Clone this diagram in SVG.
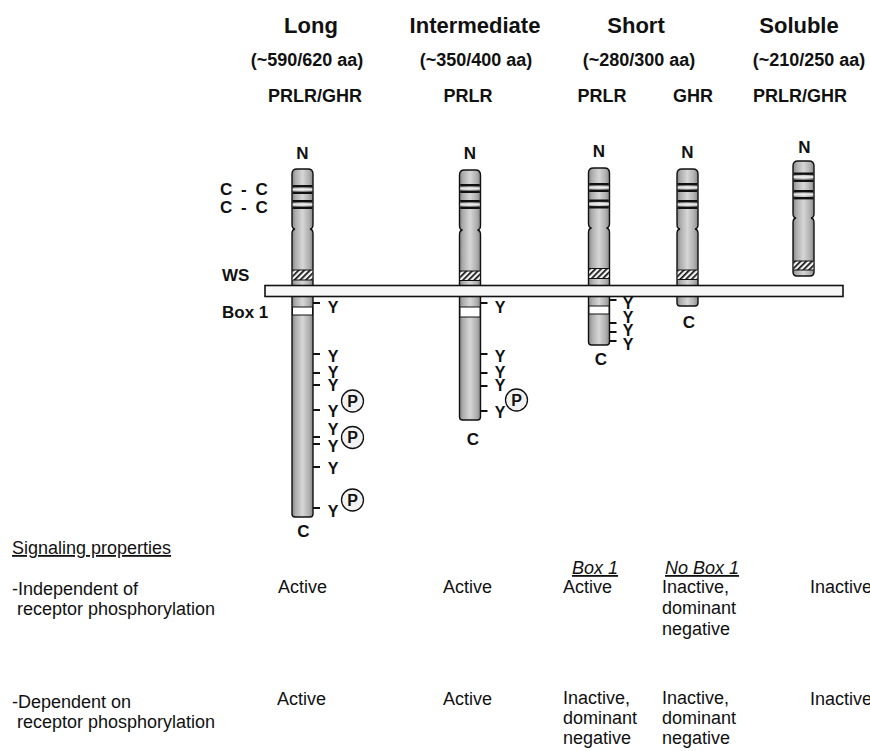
<svg xmlns="http://www.w3.org/2000/svg" width="870" height="751" viewBox="0 0 870 751">
  <style>
    text { font-family: "Liberation Sans", Arial, Helvetica, sans-serif; fill: #111; }
    .title { font-size: 22px; font-weight: bold; text-anchor: middle; }
    .sub { font-size: 18px; font-weight: bold; text-anchor: middle; }
    .kind { font-size: 18px; font-weight: bold; text-anchor: middle; }
    .lbl { font-size: 17px; font-weight: bold; }
    .end { font-size: 17px; font-weight: bold; text-anchor: middle; }
    .y { font-size: 16px; font-weight: bold; text-anchor: middle; }
    .p { font-size: 16px; font-weight: bold; text-anchor: middle; }
    .body { fill: url(#shade); stroke: #111; stroke-width: 1.4; }
    .band { fill: #111; }
    .stripe { fill: #ececec; }
    .ws { fill: url(#hatch); }
    .edge { stroke: #111; stroke-width: 1.2; fill: none; }
    .box1 { fill: #fff; stroke: #111; stroke-width: 1; }
    .tick { fill: #111; }
    .pc { fill: #f2f2f2; stroke: #111; stroke-width: 1.3; }
    .txt { font-size: 18px; }
    .ul { text-decoration: underline; }
    .mem { fill: #f7f7f7; stroke: #111; stroke-width: 1.6; }
  </style>
  <defs>
    <linearGradient id="shade" x1="0" y1="0" x2="1" y2="0">
      <stop offset="0" stop-color="#888"/>
      <stop offset="0.18" stop-color="#afafaf"/>
      <stop offset="0.5" stop-color="#d6d6d6"/>
      <stop offset="0.82" stop-color="#afafaf"/>
      <stop offset="1" stop-color="#888"/>
    </linearGradient>
    <pattern id="hatch" width="4" height="4" patternUnits="userSpaceOnUse" patternTransform="rotate(45)">
      <rect width="4" height="4" fill="#f4f4f4"/>
      <rect width="1.7" height="4" fill="#111"/>
    </pattern>
  </defs>

  <!-- column headings -->
  <g id="headings">
    <text class="title" x="311" y="33">Long</text>
    <text class="title" x="475" y="33">Intermediate</text>
    <text class="title" x="636" y="33">Short</text>
    <text class="title" x="799" y="33">Soluble</text>
    <text class="sub" x="307" y="66">(~590/620 aa)</text>
    <text class="sub" x="476" y="66">(~350/400 aa)</text>
    <text class="sub" x="639" y="66">(~280/300 aa)</text>
    <text class="sub" x="809" y="66">(~210/250 aa)</text>
    <text class="kind" x="315" y="102">PRLR/GHR</text>
    <text class="kind" x="468" y="102">PRLR</text>
    <text class="kind" x="602" y="102">PRLR</text>
    <text class="kind" x="693" y="102">GHR</text>
    <text class="kind" x="800" y="102">PRLR/GHR</text>
  </g>

  <!-- domain labels at the left -->
  <g id="domain-labels">
    <text class="lbl" x="220" y="195" word-spacing="4">C - C</text>
    <text class="lbl" x="220" y="213" word-spacing="4">C - C</text>
    <text class="lbl" x="222" y="281">WS</text>
    <text class="lbl" x="222" y="318">Box 1</text>
  </g>

  <!-- long receptor -->
  <g id="long" transform="translate(302.5,169)">
    <text class="end" x="0" y="-10">N</text>
    <path class="body" d="M-10.5,5 Q-10.5,0 -5.5,0 H5.5 Q10.5,0 10.5,5 V55.5 Q10.5,59.5 7.5,60 Q10.5,60.5 10.5,64.5 V345 Q10.5,348 7.5,348 H-7.5 Q-10.5,348 -10.5,345 V64.5 Q-10.5,60.5 -7.5,60 Q-10.5,59.5 -10.5,55.5 Z"/>
    <rect class="band" x="-9.8" y="16" width="19.6" height="2.4"/>
    <rect class="stripe" x="-9.8" y="19.6" width="19.6" height="1.8"/>
    <rect class="band" x="-9.8" y="22.6" width="19.6" height="2.4"/>
    <rect class="band" x="-9.8" y="31" width="19.6" height="2.4"/>
    <rect class="stripe" x="-9.8" y="34.6" width="19.6" height="1.8"/>
    <rect class="band" x="-9.8" y="37.6" width="19.6" height="2.4"/>
    <rect class="ws" x="-9.8" y="101" width="19.6" height="10"/>
    <path class="edge" d="M-10,101 H10 M-10,111 H10"/>
    <rect class="box1" x="-10" y="138" width="20" height="8"/>
    <rect class="tick" x="10.5" y="133" width="7" height="2"/>
    <rect class="tick" x="10.5" y="184" width="7" height="2"/>
    <rect class="tick" x="10.5" y="203" width="7" height="2"/>
    <rect class="tick" x="10.5" y="215" width="7" height="2"/>
    <rect class="tick" x="10.5" y="240" width="7" height="2"/>
    <rect class="tick" x="10.5" y="267" width="7" height="2"/>
    <rect class="tick" x="10.5" y="274" width="7" height="2"/>
    <rect class="tick" x="10.5" y="297" width="7" height="2"/>
    <rect class="tick" x="10.5" y="338" width="7" height="2"/>
    <text class="y" x="30.5" y="144">Y</text>
    <text class="y" x="30.5" y="193">Y</text>
    <text class="y" x="30.5" y="209">Y</text>
    <text class="y" x="30.5" y="222">Y</text>
    <text class="y" x="30.5" y="248">Y</text>
    <text class="y" x="30.5" y="266">Y</text>
    <text class="y" x="30.5" y="283">Y</text>
    <text class="y" x="30.5" y="305">Y</text>
    <text class="y" x="30.5" y="348">Y</text>
    <circle class="pc" cx="50" cy="232" r="11"/>
    <text class="p" x="50" y="237.8">P</text>
    <circle class="pc" cx="50" cy="268.5" r="11"/>
    <text class="p" x="50" y="274.3">P</text>
    <circle class="pc" cx="50" cy="331" r="11"/>
    <text class="p" x="50" y="336.8">P</text>
    <text class="end" x="1" y="368">C</text>
  </g>

  <!-- intermediate receptor -->
  <g id="intermediate" transform="translate(470,170)">
    <text class="end" x="0" y="-11">N</text>
    <path class="body" d="M-10.5,5 Q-10.5,0 -5.5,0 H5.5 Q10.5,0 10.5,5 V55.5 Q10.5,59.5 7.5,60 Q10.5,60.5 10.5,64.5 V247 Q10.5,250 7.5,250 H-7.5 Q-10.5,250 -10.5,247 V64.5 Q-10.5,60.5 -7.5,60 Q-10.5,59.5 -10.5,55.5 Z"/>
    <rect class="band" x="-9.8" y="14" width="19.6" height="2.4"/>
    <rect class="stripe" x="-9.8" y="17.6" width="19.6" height="1.8"/>
    <rect class="band" x="-9.8" y="20.6" width="19.6" height="2.4"/>
    <rect class="band" x="-9.8" y="30" width="19.6" height="2.4"/>
    <rect class="stripe" x="-9.8" y="33.6" width="19.6" height="1.8"/>
    <rect class="band" x="-9.8" y="36.6" width="19.6" height="2.4"/>
    <rect class="ws" x="-9.8" y="101" width="19.6" height="9.5"/>
    <path class="edge" d="M-10,101 H10 M-10,110.5 H10"/>
    <rect class="box1" x="-10" y="137" width="20" height="10"/>
    <rect class="tick" x="10.5" y="132" width="7" height="2"/>
    <rect class="tick" x="10.5" y="183" width="7" height="2"/>
    <rect class="tick" x="10.5" y="202" width="7" height="2"/>
    <rect class="tick" x="10.5" y="215" width="7" height="2"/>
    <rect class="tick" x="10.5" y="240" width="7" height="2"/>
    <text class="y" x="30" y="143">Y</text>
    <text class="y" x="30" y="192">Y</text>
    <text class="y" x="30" y="208">Y</text>
    <text class="y" x="30" y="221">Y</text>
    <text class="y" x="30" y="248">Y</text>
    <circle class="pc" cx="46.5" cy="230" r="11"/>
    <text class="p" x="46.5" y="235.8">P</text>
    <text class="end" x="3" y="275">C</text>
  </g>

  <!-- short PRLR receptor -->
  <g id="short-prlr" transform="translate(599,168)">
    <text class="end" x="0" y="-11">N</text>
    <path class="body" d="M-10.5,5 Q-10.5,0 -5.5,0 H5.5 Q10.5,0 10.5,5 V55.5 Q10.5,59.5 7.5,60 Q10.5,60.5 10.5,64.5 V174 Q10.5,177 7.5,177 H-7.5 Q-10.5,177 -10.5,174 V64.5 Q-10.5,60.5 -7.5,60 Q-10.5,59.5 -10.5,55.5 Z"/>
    <rect class="band" x="-9.8" y="15" width="19.6" height="2.4"/>
    <rect class="stripe" x="-9.8" y="18.6" width="19.6" height="1.8"/>
    <rect class="band" x="-9.8" y="21.6" width="19.6" height="2.4"/>
    <rect class="band" x="-9.8" y="31.5" width="19.6" height="2.4"/>
    <rect class="stripe" x="-9.8" y="35.1" width="19.6" height="1.8"/>
    <rect class="band" x="-9.8" y="38.1" width="19.6" height="2.4"/>
    <rect class="ws" x="-9.8" y="100.5" width="19.6" height="10"/>
    <path class="edge" d="M-10,100.5 H10 M-10,110.5 H10"/>
    <rect class="box1" x="-10" y="138" width="20" height="8"/>
    <rect class="tick" x="10.5" y="131" width="7" height="2"/>
    <rect class="tick" x="10.5" y="154" width="7" height="2"/>
    <rect class="tick" x="10.5" y="163" width="7" height="2"/>
    <rect class="tick" x="10.5" y="172" width="7" height="2"/>
    <text class="y" x="29" y="141">Y</text>
    <text class="y" x="29" y="155">Y</text>
    <text class="y" x="29" y="168">Y</text>
    <text class="y" x="29" y="182">Y</text>
    <text class="end" x="2" y="197">C</text>
  </g>

  <!-- short GHR receptor -->
  <g id="short-ghr" transform="translate(687.5,169)">
    <text class="end" x="0" y="-11">N</text>
    <path class="body" d="M-10.5,5 Q-10.5,0 -5.5,0 H5.5 Q10.5,0 10.5,5 V55.5 Q10.5,59.5 7.5,60 Q10.5,60.5 10.5,64.5 V134 Q10.5,137 7.5,137 H-7.5 Q-10.5,137 -10.5,134 V64.5 Q-10.5,60.5 -7.5,60 Q-10.5,59.5 -10.5,55.5 Z"/>
    <rect class="band" x="-9.8" y="14" width="19.6" height="2.4"/>
    <rect class="stripe" x="-9.8" y="17.6" width="19.6" height="1.8"/>
    <rect class="band" x="-9.8" y="20.6" width="19.6" height="2.4"/>
    <rect class="band" x="-9.8" y="31" width="19.6" height="2.4"/>
    <rect class="stripe" x="-9.8" y="34.6" width="19.6" height="1.8"/>
    <rect class="band" x="-9.8" y="37.6" width="19.6" height="2.4"/>
    <rect class="ws" x="-9.8" y="101" width="19.6" height="9.5"/>
    <path class="edge" d="M-10,101 H10 M-10,110.5 H10"/>
    <text class="end" x="1.5" y="159">C</text>
  </g>

  <!-- soluble receptor -->
  <g id="soluble" transform="translate(803.5,161)">
    <text class="end" x="1" y="-8">N</text>
    <path class="body" d="M-10.5,5 Q-10.5,0 -5.5,0 H5.5 Q10.5,0 10.5,5 V52.5 Q10.5,56.5 7.5,57 Q10.5,57.5 10.5,61.5 V111 Q10.5,115 6.5,115 H-6.5 Q-10.5,115 -10.5,111 V61.5 Q-10.5,57.5 -7.5,57 Q-10.5,56.5 -10.5,52.5 Z"/>
    <rect class="band" x="-9.8" y="11.5" width="19.6" height="2.4"/>
    <rect class="stripe" x="-9.8" y="15.1" width="19.6" height="1.8"/>
    <rect class="band" x="-9.8" y="18.6" width="19.6" height="2.4"/>
    <rect class="band" x="-9.8" y="29" width="19.6" height="2.4"/>
    <rect class="stripe" x="-9.8" y="32.6" width="19.6" height="1.8"/>
    <rect class="band" x="-9.8" y="36" width="19.6" height="2.4"/>
    <rect class="ws" x="-9.8" y="100" width="19.6" height="9"/>
    <path class="edge" d="M-10,100 H10 M-10,109 H10"/>
  </g>

  <!-- plasma membrane -->
  <g id="membrane">
    <rect class="mem" x="265" y="285.5" width="578" height="11"/>
  </g>

  <!-- signaling properties table -->
  <g id="properties">
    <text class="txt ul" x="12" y="554">Signaling properties</text>
    <text class="txt" x="12" y="595">-Independent of</text>
    <text class="txt" x="17" y="615">receptor phosphorylation</text>
    <text class="txt" x="12" y="708">-Dependent on</text>
    <text class="txt" x="17" y="728">receptor phosphorylation</text>

    <text class="txt" x="278" y="593">Active</text>
    <text class="txt" x="443" y="593">Active</text>
    <text class="txt ul" x="572" y="574" font-style="italic">Box 1</text>
    <text class="txt" x="563" y="593">Active</text>
    <text class="txt ul" x="665" y="574" font-style="italic">No Box 1</text>
    <text class="txt" x="662" y="593">Inactive,</text>
    <text class="txt" x="662" y="614">dominant</text>
    <text class="txt" x="662" y="635">negative</text>
    <text class="txt" x="810" y="593">Inactive</text>

    <text class="txt" x="277" y="705">Active</text>
    <text class="txt" x="443" y="705">Active</text>
    <text class="txt" x="563" y="704">Inactive,</text>
    <text class="txt" x="563" y="724">dominant</text>
    <text class="txt" x="563" y="744">negative</text>
    <text class="txt" x="662" y="704">Inactive,</text>
    <text class="txt" x="662" y="724">dominant</text>
    <text class="txt" x="662" y="744">negative</text>
    <text class="txt" x="810" y="705">Inactive</text>
  </g>
</svg>
